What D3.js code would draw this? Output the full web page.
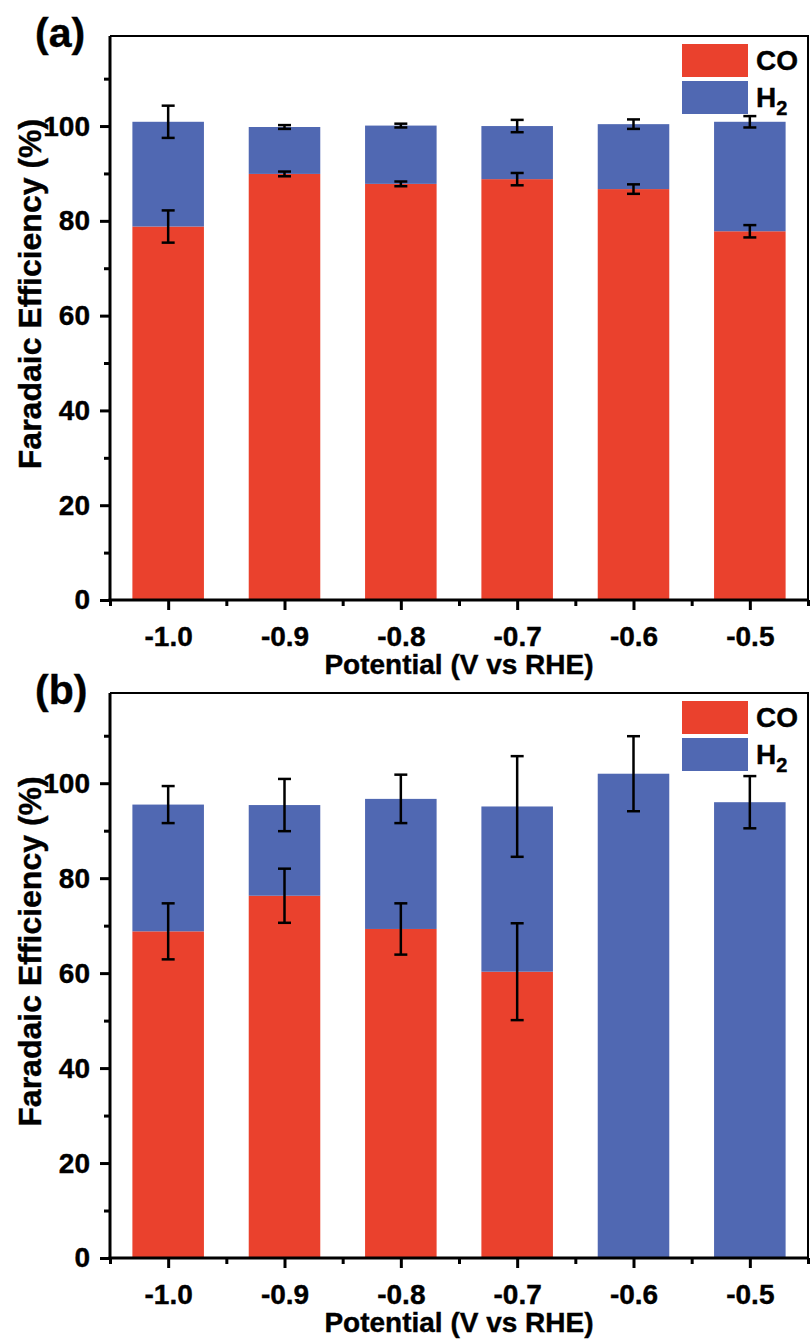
<!DOCTYPE html>
<html>
<head>
<meta charset="utf-8">
<script src="https://cdn.jsdelivr.net/npm/d3@7"></script>
<style>
body { margin: 0 ; background: #fff ; }
text { font-family: "Liberation Sans", Arial, Helvetica, sans-serif ; font-weight: bold ; stroke: #000 ; stroke-width: 0.4px ; }
</style>
</head>
<body>
<div id="chart"></div>
<script>
// potentials (V vs RHE)
var potentials = [-1.0, -0.9, -0.8, -0.7, -0.6, -0.5] ;
var xTickLabels = ['-1.0', '-0.9', '-0.8', '-0.7', '-0.6', '-0.5'] ;
var yTicks = [0, 20, 40, 60, 80, 100] ;
var yMinorTicks = [10, 30, 50, 70, 90, 110] ;

// panel (a)
var coA = [78.8, 89.9, 87.8, 88.8, 86.7, 77.8] ;
var coErrA = [3.4, 0.5, 0.5, 1.3, 1.0, 1.3] ;
var h2A = [22.1, 9.9, 12.3, 11.2, 13.7, 23.1] ;
var totErrA = [3.4, 0.4, 0.4, 1.3, 1.0, 1.2] ;

// panel (b)
var coB = [68.8, 76.3, 69.3, 60.3, 0, 0] ;
var coErrB = [5.9, 5.7, 5.4, 10.2, 0, 0] ;
var h2B = [26.7, 19.1, 27.4, 34.8, 102.0, 96.0] ;
var totErrB = [3.9, 5.5, 5.1, 10.6, 7.9, 5.5] ;

var RED = '#ea412d' ;
var BLUE = '#5068b2' ;

var svg = d3.select('#chart').append('svg').attr('width', 810).attr('height', 1340) ;

function drawPanel(top, bottom, label, co, coErr, h2, totErr) {
	var left = 110, right = 808 ;
	var g = svg.append('g') ;
	var x = d3.scaleLinear().domain([-1.05, -0.45]).range([left, right]) ;
	var y = d3.scaleLinear().domain([0, 119]).range([bottom, top]) ;
	var bw = (x(-0.9) - x(-1.0)) * 0.615 ;

	// bars
	var rows = potentials.map(function(p, i) {
		return { p: p, co: co[i], coErr: coErr[i], h2: h2[i], tot: co[i] + h2[i], totErr: totErr[i] } ;
	}) ;
	g.selectAll('rect.co').data(rows).enter().append('rect')
		.attr('x', function(d) { return x(d.p) - bw / 2 ; })
		.attr('y', function(d) { return y(d.co) ; })
		.attr('width', bw)
		.attr('height', function(d) { return y(0) - y(d.co) ; })
		.attr('fill', RED) ;
	g.selectAll('rect.h2').data(rows).enter().append('rect')
		.attr('x', function(d) { return x(d.p) - bw / 2 ; })
		.attr('y', function(d) { return y(d.tot) ; })
		.attr('width', bw)
		.attr('height', function(d) { return y(d.co) - y(d.tot) ; })
		.attr('fill', BLUE) ;

	// error bars
	var errs = [] ;
	rows.forEach(function(d) {
		if ( d.co > 0 ) errs.push({ p: d.p, v: d.co, e: d.coErr }) ;
		errs.push({ p: d.p, v: d.tot, e: d.totErr }) ;
	}) ;
	var cap = 6.5 ;
	var eg = g.selectAll('g.err').data(errs).enter().append('g')
		.attr('stroke', '#000').attr('stroke-width', 2.5) ;
	eg.append('line')
		.attr('x1', function(d) { return x(d.p) ; }).attr('x2', function(d) { return x(d.p) ; })
		.attr('y1', function(d) { return y(d.v - d.e) ; }).attr('y2', function(d) { return y(d.v + d.e) ; }) ;
	eg.append('line')
		.attr('x1', function(d) { return x(d.p) - cap ; }).attr('x2', function(d) { return x(d.p) + cap ; })
		.attr('y1', function(d) { return y(d.v + d.e) ; }).attr('y2', function(d) { return y(d.v + d.e) ; }) ;
	eg.append('line')
		.attr('x1', function(d) { return x(d.p) - cap ; }).attr('x2', function(d) { return x(d.p) + cap ; })
		.attr('y1', function(d) { return y(d.v - d.e) ; }).attr('y2', function(d) { return y(d.v - d.e) ; }) ;

	// frame (top / right)
	g.append('path')
		.attr('d', 'M' + left + ',' + top + 'H' + right + 'V' + bottom)
		.attr('fill', 'none').attr('stroke', '#000').attr('stroke-width', 2) ;

	// y axis
	var yAxis = g.append('g').attr('transform', 'translate(' + left + ',0)')
		.call(d3.axisLeft(y).tickValues(yTicks).tickSize(10).tickPadding(10).tickFormat(d3.format('d'))) ;
	var yMinor = g.append('g').attr('transform', 'translate(' + left + ',0)')
		.call(d3.axisLeft(y).tickValues(yMinorTicks).tickSize(6).tickFormat('')) ;
	// x axis
	var xAxis = g.append('g').attr('transform', 'translate(0,' + bottom + ')')
		.call(d3.axisBottom(x).tickValues(potentials).tickSize(10).tickPadding(10)
			.tickFormat(function(d, i) { return xTickLabels[i] ; })) ;
	var xMinor = g.append('g').attr('transform', 'translate(0,' + bottom + ')')
		.call(d3.axisBottom(x).tickValues([-1.05, -0.95, -0.85, -0.75, -0.65, -0.55, -0.45]).tickSize(6).tickFormat('')) ;

	[yAxis, yMinor, xAxis, xMinor].forEach(function(a) {
		a.select('.domain').attr('stroke-width', 3) ;
		a.selectAll('.tick line').attr('stroke-width', 3) ;
		a.selectAll('text').attr('font-size', 28).attr('font-family', null).attr('fill', '#000') ;
	}) ;
	yAxis.select('.domain').attr('d', 'M0,' + top + 'V' + (bottom + 1.5)) ;
	xAxis.select('.domain').attr('d', 'M' + (left - 1.5) + ',0H' + right) ;
	yMinor.select('.domain').remove() ;
	xMinor.select('.domain').remove() ;
	xAxis.selectAll('text').attr('dy', '0.93em') ;

	// axis titles
	g.append('text')
		.attr('x', (left + right) / 2).attr('y', bottom + 74)
		.attr('text-anchor', 'middle').attr('font-size', 28)
		.text('Potential (V vs RHE)') ;
	g.append('text')
		.attr('transform', 'translate(41,' + ((top + bottom) / 2 - 24) + ') rotate(-90)')
		.attr('text-anchor', 'middle').attr('font-size', 32)
		.text('Faradaic Efficiency (%)') ;

	// panel label
	g.append('text').attr('x', 35).attr('y', top + 11).attr('font-size', 41).text(label) ;

	// legend
	var lx = right - 126 ;
	var legend = [{ c: RED, t: 'CO' }, { c: BLUE, t: 'H' }] ;
	legend.forEach(function(l, i) {
		var ly = top + 8 + i * 37 ;
		g.append('rect').attr('x', lx).attr('y', ly).attr('width', 66).attr('height', 33).attr('fill', l.c) ;
		var t = g.append('text').attr('x', lx + 74).attr('y', ly + 26).attr('font-size', 28).text(l.t) ;
		if ( i == 1 )
			t.append('tspan').attr('font-size', 20).attr('dy', 8).text('2') ;
	}) ;
}

drawPanel(36, 600, '(a)', coA, coErrA, h2A, totErrA) ;
drawPanel(693, 1258, '(b)', coB, coErrB, h2B, totErrB) ;
</script>
</body>
</html>
